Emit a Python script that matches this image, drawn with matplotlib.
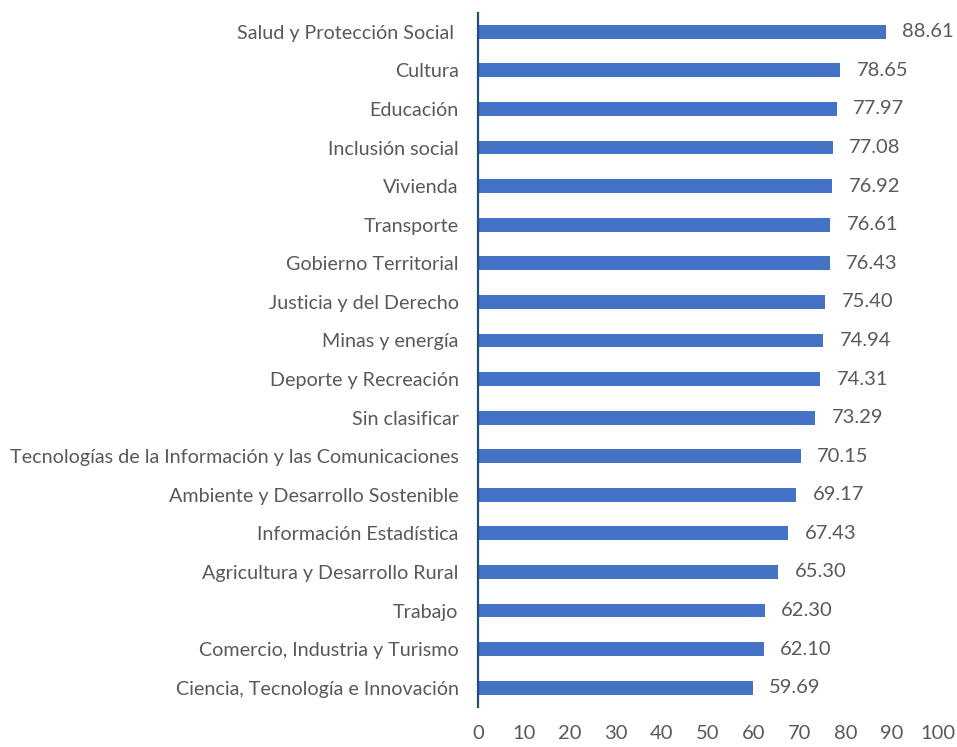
import matplotlib.pyplot as plt

categories = [
    "Salud y Protección Social ",
    "Cultura",
    "Educación",
    "Inclusión social",
    "Vivienda",
    "Transporte",
    "Gobierno Territorial",
    "Justicia y del Derecho",
    "Minas y energía",
    "Deporte y Recreación",
    "Sin clasificar",
    "Tecnologías de la Información y las Comunicaciones",
    "Ambiente y Desarrollo Sostenible",
    "Información Estadística",
    "Agricultura y Desarrollo Rural",
    "Trabajo",
    "Comercio, Industria y Turismo",
    "Ciencia, Tecnología e Innovación",
]
values = [88.61, 78.65, 77.97, 77.08, 76.92, 76.61, 76.43, 75.40, 74.94,
          74.31, 73.29, 70.15, 69.17, 67.43, 65.30, 62.30, 62.10, 59.69]
xticks = [0, 10, 20, 30, 40, 50, 60, 70, 80, 90, 100]

plt.rcParams['font.family'] = ['Lato', 'DejaVu Sans']
gray = "#595959"

fig = plt.figure(figsize=(9.57, 7.47), dpi=100)
ax = fig.add_axes([478 / 957, 40 / 747, 460 / 957, 694.5 / 747])

ypos = list(range(len(categories)))[::-1]
bars = ax.barh(ypos, values, height=0.36, color="#4472C4")
ax.bar_label(bars, labels=[f"{v:.2f}" for v in values], padding=12,
             color=gray, fontsize=14.5)

ax.set_xlim(0, 100)
ax.set_ylim(-0.5, len(categories) - 0.5)
ax.set_xticks(xticks)
ax.set_yticks(ypos)
ax.set_yticklabels(categories)
ax.tick_params(axis="both", length=0, colors=gray)
ax.tick_params(axis="y", pad=14, labelsize=14.2)
ax.tick_params(axis="x", pad=13, labelsize=14.5)

for s in ["top", "right", "bottom"]:
    ax.spines[s].set_visible(False)
ax.spines["left"].set_color("#1F4E79")
ax.spines["left"].set_linewidth(1.6)

fig.savefig("out.png", dpi=100)
